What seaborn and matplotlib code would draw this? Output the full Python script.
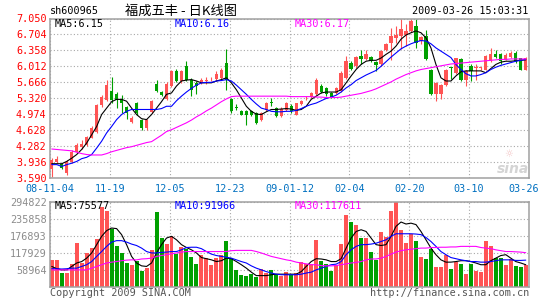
import numpy as np
import pandas as pd
import matplotlib
matplotlib.use('Agg')
import matplotlib.pyplot as plt
import matplotlib.transforms as mtransforms
import seaborn as sns

# ---------------- data ----------------
open_ = [3.78,3.93,3.88,3.68,3.92,4.14,4.26,4.30,4.46,4.58,5.17,5.28,5.48,5.40,5.30,5.12,4.80,5.21,4.84,4.66,5.02,5.62,5.46,5.30,
         5.58,5.90,5.69,6.01,5.72,5.65,5.65,5.69,5.73,5.73,5.76,6.09,5.29,5.12,5.03,5.03,5.03,4.99,4.85,5.06,5.22,5.10,4.92,5.06,
         5.14,4.96,5.19,5.31,5.34,5.40,5.58,5.53,5.43,5.43,5.47,5.76,6.09,6.01,6.23,6.16,6.21,6.11,6.05,6.36,6.52,6.62,6.67,6.70,
         6.78,6.89,6.56,6.67,5.94,5.40,5.40,5.61,5.98,5.87,6.16,5.72,6.01,5.97,5.98,5.94,6.12,6.27,6.27,6.16,6.21,6.30,6.18,5.94]
high = [4.02,4.05,3.90,3.97,4.18,4.34,4.40,4.50,4.72,5.20,5.38,5.72,5.78,5.44,5.38,5.15,4.92,5.24,4.86,4.87,5.28,5.72,5.48,5.66,
        5.92,5.95,5.92,6.13,5.75,5.68,5.75,5.78,5.78,5.90,5.98,6.38,5.32,5.18,5.06,5.06,5.05,5.02,5.02,5.24,5.32,5.12,5.12,5.24,
        5.20,5.22,5.28,5.36,5.44,5.76,5.62,5.55,5.45,5.55,5.90,6.23,6.12,6.23,6.37,6.37,6.24,6.13,6.36,6.52,6.85,6.88,7.04,6.94,
        7.05,7.05,6.68,6.81,5.96,5.67,5.63,5.96,5.99,6.20,6.20,5.92,6.05,6.05,6.00,6.25,6.40,6.37,6.31,6.31,6.34,6.34,6.20,6.21]
low = [3.60,3.90,3.78,3.64,3.90,4.12,4.22,4.28,4.44,4.56,5.12,5.25,5.22,5.10,5.00,4.86,4.78,4.96,4.63,4.62,5.00,5.45,5.36,5.28,
       5.55,5.66,5.65,5.70,5.36,5.40,5.62,5.62,5.70,5.70,5.74,5.50,4.99,5.05,4.94,4.74,4.92,4.75,4.82,5.03,5.15,4.90,4.90,5.03,
       5.00,4.94,5.16,5.28,5.32,5.38,5.42,5.36,5.32,5.40,5.45,5.74,5.94,5.98,6.05,6.14,6.10,5.90,6.02,6.34,6.15,6.52,6.38,6.46,
       6.75,6.41,6.50,6.14,5.38,5.26,5.29,5.59,5.74,5.85,5.70,5.58,5.70,5.72,5.92,5.92,6.10,6.20,6.05,6.14,6.19,6.08,5.93,5.92]
close = [3.97,3.99,3.80,3.93,4.14,4.30,4.32,4.47,4.67,5.17,5.35,5.60,5.28,5.28,5.22,4.99,4.88,4.99,4.67,4.84,5.26,5.48,5.38,5.62,
         5.90,5.69,5.90,5.72,5.50,5.58,5.72,5.70,5.74,5.85,5.94,5.72,5.03,5.10,4.96,4.96,4.96,4.78,4.99,5.21,5.21,4.92,5.09,5.21,
         5.03,5.21,5.26,5.32,5.42,5.72,5.45,5.40,5.34,5.53,5.87,6.12,5.96,6.21,6.16,6.27,6.12,6.03,6.34,6.50,6.67,6.70,6.83,6.78,
         6.99,6.52,6.65,6.16,5.40,5.65,5.61,5.94,5.97,6.18,5.72,5.90,5.90,5.98,5.99,6.23,6.28,6.21,6.12,6.26,6.30,6.12,5.94,6.18]
ma5 = [3.89,3.89,3.89,3.94,4.01,4.09,4.20,4.34,4.52,4.70,4.96,5.10,5.24,5.29,5.29,5.25,5.10,4.96,4.87,4.85,4.96,5.10,5.24,5.40,
       5.43,5.58,5.69,5.71,5.72,5.69,5.65,5.65,5.65,5.69,5.72,5.76,5.65,5.50,5.32,5.14,5.03,4.97,4.96,5.02,5.07,5.07,5.08,5.09,
       5.08,5.05,5.07,5.14,5.29,5.36,5.43,5.45,5.45,5.45,5.50,5.65,5.80,5.94,6.05,6.12,6.14,6.14,6.19,6.27,6.34,6.45,6.60,6.69,
       6.74,6.78,6.74,6.63,6.41,6.05,5.76,5.69,5.69,5.80,5.89,5.91,5.91,5.91,5.91,5.87,5.96,6.05,6.10,6.12,6.12,6.13,6.14,6.15]
ma10 = [3.87,3.87,3.83,3.87,3.90,3.94,4.00,4.03,4.09,4.23,4.38,4.56,4.70,4.85,4.96,5.03,5.07,5.07,5.07,5.07,5.07,5.07,5.09,5.14,
        5.14,5.26,5.36,5.45,5.53,5.60,5.65,5.66,5.66,5.69,5.70,5.72,5.69,5.60,5.50,5.40,5.29,5.19,5.10,5.07,5.03,5.02,5.02,5.03,
        5.03,5.05,5.09,5.14,5.18,5.21,5.26,5.31,5.34,5.38,5.45,5.54,5.61,5.70,5.76,5.82,5.87,5.92,6.01,6.11,6.21,6.30,6.39,6.45,
        6.50,6.54,6.57,6.56,6.50,6.41,6.34,6.27,6.20,6.05,5.94,5.85,5.80,5.80,5.83,5.87,5.94,5.99,6.03,6.06,6.09,6.12,6.14,6.16]
ma30 = [4.21,4.20,4.19,4.18,4.17,4.14,4.11,4.09,4.08,4.08,4.08,4.11,4.15,4.18,4.21,4.24,4.26,4.29,4.32,4.35,4.37,4.44,4.51,4.59,
        4.63,4.68,4.73,4.78,4.84,4.91,4.97,5.04,5.10,5.17,5.24,5.30,5.35,5.36,5.36,5.36,5.36,5.36,5.36,5.36,5.36,5.36,5.36,5.36,
        5.35,5.35,5.35,5.35,5.35,5.34,5.34,5.33,5.33,5.33,5.34,5.36,5.38,5.40,5.42,5.45,5.48,5.52,5.57,5.62,5.67,5.73,5.78,5.83,
        5.87,5.91,5.94,5.96,5.98,6.00,6.02,6.04,6.06,6.07,6.08,6.09,6.10,6.11,6.12,6.13,6.14,6.15,6.16,6.16,6.17,6.17,6.17,6.17]
# volume in thousands of lots
volume = [92,92,46,46,78,152,83,117,135,165,277,262,202,140,117,83,74,88,55,65,127,260,169,150,
          176,115,138,132,103,80,109,98,75,98,109,158,98,57,40,36,43,32,60,46,57,43,36,51,
          40,48,86,78,78,161,88,78,55,74,147,251,224,213,170,170,121,93,190,171,262,294,198,151,
          183,160,103,96,130,68,68,110,60,85,80,45,80,55,50,160,140,100,100,75,95,70,68,75]
vma5 = [70,62,58,58,70,82,87,99,117,146,175,195,204,202,181,146,105,82,72,70,82,117,146,169,
        175,163,146,136,128,117,101,97,93,87,90,99,97,87,76,64,50,38,38,38,41,43,43,43,
        43,43,52,70,87,97,96,93,87,87,97,134,169,192,198,192,169,146,143,146,175,210,225,218,
        221,216,192,163,134,111,93,85,85,87,90,90,87,82,76,76,90,99,108,111,99,87,82,76]
vma10 = [62,62,61,62,64,64,70,76,87,105,122,140,155,160,160,155,148,143,134,122,117,117,119,120,
         122,122,128,136,137,137,132,122,113,108,105,102,99,93,87,82,72,64,58,52,47,43,41,41,
         41,41,43,47,50,58,64,70,76,78,87,111,128,140,146,146,148,151,157,163,175,184,184,184,
         184,183,181,171,157,140,122,111,101,97,93,90,87,87,85,85,87,90,93,93,93,91,91,92]
vma30 = [58,58,58,58,58,58,58,58,64,70,76,82,85,87,90,92,93,93,96,97,99,105,108,111,
         114,117,120,122,122,122,122,122,122,122,122,122,125,126,126,126,126,122,117,111,105,101,97,93,
         90,85,82,79,76,76,73,72,72,73,76,79,82,84,87,93,96,96,99,105,113,120,125,128,
         130,132,134,134,136,136,137,137,138,138,140,140,140,140,136,134,132,128,125,122,122,121,120,118]

date_labels = ['08-11-04', '11-19', '12-05', '12-23', '09-01-12', '02-04', '02-20', '03-10', '03-26']
price_labels = ['3.590', '3.936', '4.282', '4.628', '4.974', '5.320', '5.666', '6.012', '6.358', '6.704', '7.050']
volume_labels = ['58964', '117929', '176893', '235858', '294822']

# ---------------- style ----------------
sns.set_theme(style='white')
plt.rcParams['font.family'] = ['DejaVu Sans Mono', 'DejaVu Sans']
CJK = ['Noto Sans CJK SC', 'DejaVu Sans']
RED, GREEN = '#ff5454', '#00a000'
GRID = '#a8a8a8'
BORDER = '#a0a0a0'
FS = 7.3

W, H = 545, 300
fig = plt.figure(figsize=(W / 100, H / 100), dpi=100)
fig.patch.set_facecolor('white')


def px_axes(l, t, r, b):
    return fig.add_axes([l / W, 1 - b / H, (r - l) / W, (b - t) / H])


def ftext(x, y, s, **kw):
    return fig.text(x / W, 1 - y / H, s, **kw)


axp = px_axes(50, 18.5, 529, 177.5)
axv = px_axes(50, 202, 529, 286.5)

n = len(close)
x = np.arange(n)
df = pd.DataFrame({'x': x, 'open': open_, 'high': high, 'low': low, 'close': close,
                   'ma5': ma5, 'ma10': ma10, 'ma30': ma30,
                   'vol': np.array(volume) * 1000.0, 'vma5': np.array(vma5) * 1000.0,
                   'vma10': np.array(vma10) * 1000.0, 'vma30': np.array(vma30) * 1000.0})
up = df['close'] >= df['open']
colors = np.where(up, RED, GREEN)

xlim = (-0.35, n - 0.35)
xt = [12 * k - 0.35 for k in range(len(date_labels))]

for ax in (axp, axv):
    ax.set_facecolor('white')
    ax.set_xlim(*xlim)
    ax.set_xticks(xt)
    for s in ax.spines.values():
        s.set_color(BORDER)
        s.set_linewidth(1.1)
    ax.grid(True, color=GRID, linestyle=(0, (1, 2)), linewidth=0.8)
    ax.set_axisbelow(True)
    ax.tick_params(length=0)

# ---- price panel ----
ptk = [float(v) for v in price_labels]
axp.set_ylim(ptk[0], ptk[-1])
axp.set_yticks(ptk)
axp.set_yticklabels(price_labels, color='#ff0000', fontsize=FS)
axp.tick_params(axis='y', pad=2.5)
axp.set_xticklabels(date_labels, color='#0070c0', fontsize=FS)
axp.tick_params(axis='x', pad=4.5)
last = axp.get_xticklabels()[-1]
last.set_transform(last.get_transform() + mtransforms.ScaledTranslation(-5 / 100, 0, fig.dpi_scale_trans))

axp.vlines(df['x'], df['low'], df['high'], colors=colors, linewidth=0.8, zorder=2)
body_bottom = np.minimum(df['open'], df['close'])
body_h = np.maximum(np.abs(df['close'] - df['open']), 0.014)
axp.bar(df['x'], body_h, bottom=body_bottom, width=0.66, color=colors, linewidth=0, zorder=3)

sns.lineplot(data=df, x='x', y='ma5', ax=axp, color='black', linewidth=0.8, zorder=4)
sns.lineplot(data=df, x='x', y='ma10', ax=axp, color='#0000ff', linewidth=0.8, zorder=4)
sns.lineplot(data=df, x='x', y='ma30', ax=axp, color='#ff00ff', linewidth=0.8, zorder=4)
axp.set_xlabel('')
axp.set_ylabel('')

# ---- volume panel ----
vtk = [float(v) for v in volume_labels]
axv.set_ylim(0, vtk[-1])
axv.set_yticks(vtk)
axv.set_yticklabels(volume_labels, color='#8c8c8c', fontsize=FS)
axv.tick_params(axis='y', pad=2.5)
axv.set_xticklabels([])
axv.bar(df['x'], df['vol'], width=0.8, color=colors, linewidth=0, zorder=2)
sns.lineplot(data=df, x='x', y='vma5', ax=axv, color='black', linewidth=0.8, zorder=4)
sns.lineplot(data=df, x='x', y='vma10', ax=axv, color='#0000ff', linewidth=0.8, zorder=4)
sns.lineplot(data=df, x='x', y='vma30', ax=axv, color='#ff00ff', linewidth=0.8, zorder=4)
axv.set_xlabel('')
axv.set_ylabel('')

# ---- texts ----
ftext(50, 11, 'sh600965', fontsize=FS, color='black', ha='left', va='center')
ftext(181, 11, '福成五丰 - 日K线图', fontsize=9.5, color='black', ha='center', va='center', family=CJK)
ftext(528, 11, '2009-03-26 15:03:31', fontsize=FS, color='black', ha='right', va='center')

ftext(55, 24, 'MA5:%.2f' % ma5[-1], fontsize=FS, color='black', ha='left', va='center')
ftext(175, 24, 'MA10:%.2f' % ma10[-1], fontsize=FS, color='#0000ff', ha='left', va='center')
ftext(295, 24, 'MA30:%.2f' % ma30[-1], fontsize=FS, color='#ff00ff', ha='left', va='center')

ftext(55, 206, 'MA5:75577', fontsize=FS, color='black', ha='left', va='center')
ftext(175, 206, 'MA10:91966', fontsize=FS, color='#0000ff', ha='left', va='center')
ftext(295, 206, 'MA30:117611', fontsize=FS, color='#ff00ff', ha='left', va='center')

ftext(50, 293, 'Copyright 2009 SINA.COM', fontsize=FS, color='#555555', ha='left', va='center')
ftext(529, 293, 'http://finance.sina.com.cn', fontsize=FS, color='#555555', ha='right', va='center')

# sina watermark
ftext(513, 169, 'sina', fontsize=10, color='#d4d4d4', ha='center', va='center',
      family='DejaVu Sans', style='italic', weight='bold', zorder=1)
ftext(509, 154, '\u263c', fontsize=7, color='#f2c4c4', ha='center', va='center', family='DejaVu Sans')

fig.savefig('out.png', dpi=100, facecolor='white')
